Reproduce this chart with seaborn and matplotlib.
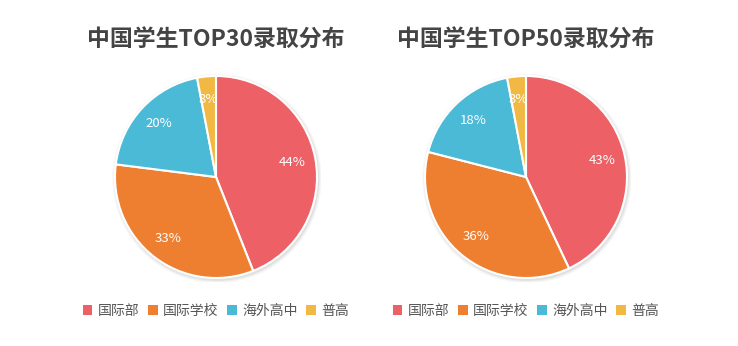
import matplotlib
matplotlib.use("Agg")
import matplotlib.pyplot as plt
import seaborn as sns
from matplotlib.patches import Patch, Circle

categories = ["国际部", "国际学校", "海外高中", "普高"]
top30_values = [44, 33, 20, 3]
top50_values = [43, 36, 18, 3]
titles = ["中国学生TOP30录取分布", "中国学生TOP50录取分布"]
colors = ["#EC6066", "#EE7F30", "#4BBAD6", "#F1B944"]

sns.set_theme(style="white")
plt.rcParams['font.family'] = ['Noto Sans CJK SC', 'DejaVu Sans']

W, H = 738, 346
fig = plt.figure(figsize=(W / 100, H / 100), dpi=100)
fig.patch.set_facecolor("white")

centers = [(216, 177), (526, 177)]
R = 101
for (cx, cy), vals, title in zip(centers, [top30_values, top50_values], titles):
    ax = fig.add_axes([(cx - R - 4) / W, (H - cy - R - 4) / H, (2 * R + 8) / W, (2 * R + 8) / H])
    lim = (R + 4) / R
    for k, a in enumerate([0.05, 0.04, 0.03]):
        ax.add_patch(Circle((0.01, -0.015), 1.0 + 0.012 * (k + 1), color="black",
                            alpha=a, lw=0, zorder=0))
    ax.pie(vals, colors=colors, startangle=90, counterclock=False,
           autopct="%d%%", pctdistance=0.77, radius=1,
           wedgeprops=dict(edgecolor="white", linewidth=1.5),
           textprops=dict(color="white", fontsize=9.5))
    ax.set_xlim(-lim, lim)
    ax.set_ylim(-lim, lim)
    ax.set_aspect("equal")
    ax.axis("off")
    fig.text(cx / W, 1 - 40 / H, title, ha="center", va="center",
             fontsize=16.5, fontweight="bold", color="#444444")
    handles = [Patch(facecolor=c, edgecolor="none") for c in colors]
    fig.legend(handles, categories, loc="center", bbox_to_anchor=(cx / W, 1 - 311 / H),
               ncol=4, frameon=False, fontsize=10, handlelength=0.7, handleheight=0.7,
               handletextpad=0.4, columnspacing=0.6, labelcolor="#555555")

fig.savefig("out.png", dpi=100, facecolor="white")
